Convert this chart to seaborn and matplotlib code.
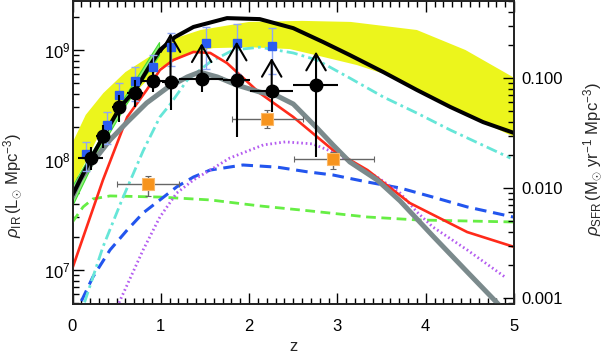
import matplotlib
matplotlib.use('Agg')
import numpy as np
import matplotlib.pyplot as plt
import matplotlib.ticker as mticker
import seaborn as sns

# ---- data (z, rho_IR in Lsun/Mpc^3) ----
band_up_z = [0.0, 0.15, 0.35, 0.6, 0.9, 1.1, 1.45, 2.0, 2.6, 3.15, 3.9, 4.45, 5.0]
band_up_v = [1.43e8, 2.57e8, 4.06e8, 6.3e8, 9.0e8, 1.23e9, 1.52e9, 1.8e9, 1.84e9, 1.8e9, 1.52e9, 1.0e9, 5.6e8]
band_lo_z = [0.0, 0.16, 0.31, 0.62, 0.99, 1.37, 1.59, 2.01, 2.46, 2.8, 3.22, 3.6, 4.28, 5.0]
band_lo_v = [5.8e7, 1.0e8, 1.76e8, 3.5e8, 6.9e8, 9.6e8, 1.04e9, 1.06e9, 1.02e9, 8.8e8, 7.3e8, 5.8e8, 3.03e8, 1.62e8]

green_band_z = [0.0, 0.3, 0.6, 0.98]
green_band_hi = [5.9e7, 1.52e8, 3.9e8, 1.18e9]
green_band_lo = [3.9e7, 1.23e8, 3.16e8, 9.0e8]

black_z = [0.0, 0.2, 0.345, 0.54, 0.71, 0.88, 0.99, 1.16, 1.37, 1.75, 2.12, 2.5, 2.84, 3.14, 3.52, 3.9, 4.28, 4.65, 5.0]
black_v = [4.8e7, 1.0e8, 1.62e8, 3.03e8, 4.33e8, 7.3e8, 1.0e9, 1.31e9, 1.62e9, 1.95e9, 1.91e9, 1.58e9, 1.18e9, 9.0e8, 6.3e8, 4.33e8, 3.03e8, 2.21e8, 1.76e8]

red_z = [0.0, 0.345, 0.62, 0.84, 0.99, 1.14, 1.37, 1.56, 1.75, 2.12, 2.5, 2.95, 3.34, 3.82, 4.47, 5.0]
red_v = [1.04e7, 6.58e7, 2.46e8, 4.33e8, 6.58e8, 8.1e8, 9.6e8, 9.4e8, 7.6e8, 4.06e8, 2.46e8, 1.23e8, 8.1e7, 4.06e7, 2.21e7, 1.62e7]

gray_z = [0.0, 0.085, 0.23, 0.425, 0.62, 0.84, 1.07, 1.3, 1.44, 1.64, 1.86, 2.12, 2.32, 2.5, 2.77, 2.95, 3.14, 3.45, 3.71, 4.08, 4.47, 4.81, 4.9]
gray_v = [4.6e7, 6.6e7, 9.6e7, 1.52e8, 2.21e8, 3.3e8, 4.52e8, 5.69e8, 6.3e8, 5.69e8, 4.8e8, 4.15e8, 3.82e8, 3.23e8, 1.95e8, 1.37e8, 9.6e7, 6.58e7, 4.24e7, 2.04e7, 9.6e6, 5.0e6, 4.15e6]

cyan_z = [0.1, 0.13, 0.345, 0.56, 0.8, 0.99, 1.1, 1.3, 1.56, 1.82, 2.12, 2.5, 2.77, 3.14, 3.52, 3.9, 4.28, 4.96]
cyan_v = [3.2e6, 4.9e6, 1.62e7, 4.33e7, 1.21e8, 2.46e8, 3.16e8, 5.33e8, 7.8e8, 1.0e9, 1.06e9, 9.4e8, 8.1e8, 5.56e8, 3.74e8, 2.67e8, 1.87e8, 1.04e8]

purple_z = [0.48, 0.52, 0.8, 0.99, 1.18, 1.37, 1.56, 1.78, 2.16, 2.41, 2.72, 2.95, 3.2, 3.45, 3.71, 3.9, 4.08, 4.47, 4.9]
purple_v = [3.5e6, 4.9e6, 1.52e7, 3.03e7, 5.0e7, 6.58e7, 8.1e7, 1.04e8, 1.37e8, 1.46e8, 1.4e8, 1.18e8, 9.0e7, 7.0e7, 5.0e7, 3.37e7, 2.46e7, 1.52e7, 8.6e6]

blue_z = [0.05, 0.085, 0.23, 0.425, 0.62, 0.8, 0.99, 1.18, 1.37, 1.56, 1.93, 2.32, 2.66, 2.95, 3.34, 3.71, 4.08, 4.47, 4.99]
blue_v = [3.6e6, 4.9e6, 8.6e6, 1.52e7, 2.31e7, 3.3e7, 4.33e7, 5.69e7, 7.0e7, 8.1e7, 9.0e7, 8.6e7, 7.8e7, 7.3e7, 6.3e7, 5.56e7, 4.6e7, 3.74e7, 3.03e7]

green_z = [0.0, 0.12, 0.23, 0.425, 0.99, 1.56, 2.12, 2.69, 3.34, 3.9, 4.99]
green_v = [2.73e7, 3.74e7, 4.42e7, 4.71e7, 4.6e7, 4.33e7, 3.82e7, 3.44e7, 3.03e7, 2.85e7, 2.73e7]

# black circles (last five are lower limits, arrow tips in bk_hi)
bk_z = [0.206, 0.349, 0.53, 0.708, 0.915, 1.11, 1.463, 1.86, 2.256, 2.758]
bk_v = [1.05e8, 1.65e8, 3.05e8, 4.1e8, 5.25e8, 5.16e8, 5.45e8, 5.3e8, 4.26e8, 4.8e8]
bk_lo = [8.1e7, 1.28e8, 2.23e8, 3.05e8, 4.18e8, 2.85e8, 4.18e8, 1.63e8, 2.75e8, 1.07e8]
bk_hi = [1.32e8, 2.08e8, 3.9e8, 5.33e8, 6.35e8, 1.42e9, 1.15e9, 1.19e9, 8.46e8, 9.66e8]
bk_zlo = [0.14, 0.08, 0.08, 0.09, 0.135, 0.1, 0.26, 0.16, 0.25, 0.26]
bk_zhi = [0.144, 0.08, 0.08, 0.09, 0.155, 0.1, 0.24, 0.15, 0.24, 0.25]
bk_limit = [False, False, False, False, False, True, True, True, True, True]

bl_z = [0.153, 0.387, 0.53, 0.711, 0.915, 1.112, 1.508, 1.86, 2.256]
bl_v = [1.135e8, 2.07e8, 3.89e8, 5.25e8, 7.05e8, 1.07e9, 1.15e9, 1.16e9, 1.09e9]
bl_lo = [0.80e8, 1.39e8, 2.73e8, 3.45e8, 5.1e8, 7.2e8, 6.7e8, 6.0e8, 6.0e8]
bl_hi = [1.47e8, 2.75e8, 5.05e8, 7.05e8, 9.0e8, 1.42e9, 1.63e9, 1.72e9, 1.58e9]

or_z = [0.859, 2.206, 2.954]
or_v = [6.0e7, 2.38e8, 1.01e8]
or_lo = [4.71e7, 1.97e8, 8.2e7]
or_hi = [7.2e7, 2.85e8, 1.19e8]
or_zlo = [0.35, 0.4, 0.45]
or_zhi = [0.35, 0.4, 0.46]

sfr_factor = 1.8e-10
ylim = (4.9e6, 2.79e9)

sns.set_theme(style='ticks')
plt.rcParams['font.family'] = ['Liberation Sans', 'DejaVu Sans']
plt.rcParams['mathtext.fontset'] = 'custom'
plt.rcParams['mathtext.rm'] = 'Liberation Sans'
plt.rcParams['mathtext.it'] = 'Liberation Sans:italic'

fig = plt.figure(figsize=(6.03, 3.58), dpi=100)
ax = fig.add_axes([72.5 / 603, 1 - 304 / 358, 441.5 / 603, 303 / 358])
ax.set_yscale('log')
ax.set_xlim(0, 5)
ax.set_ylim(*ylim)

# shaded bands
ax.fill(np.r_[band_up_z, band_lo_z[::-1]], np.r_[band_up_v, band_lo_v[::-1]],
        color='#ecf51c', lw=0, zorder=1)
ax.fill_between(green_band_z, green_band_lo, green_band_hi, color='#8ef07a',
                edgecolor='#44dd33', lw=0.8, zorder=2)

def curve(z, v, color, lw, ls, zo):
    sns.lineplot(x=z, y=v, ax=ax, color=color, linewidth=lw, zorder=zo, sort=False)
    ax.lines[-1].set_linestyle(ls)

curve(green_z, green_v, '#66ee44', 2.0, (0, (3.5, 2)), 3)
curve(blue_z, blue_v, '#2255ee', 2.2, (0, (3.8, 2.2)), 3)
curve(purple_z, purple_v, '#b45cf0', 2.0, (0, (0.6, 1.0)), 3)
curve(cyan_z, cyan_v, '#66e6d8', 2.0, (0, (4, 1.5, 1, 1.5)), 3)
curve(red_z, red_v, '#ff2a1a', 1.9, '-', 4)
curve(gray_z, gray_v, '#7b8a8c', 3.6, '-', 5)
curve(black_z, black_v, 'black', 2.9, '-', 6)

# data points
ax.errorbar(or_z, or_v, xerr=[or_zlo, or_zhi],
            yerr=[np.subtract(or_v, or_lo), np.subtract(or_hi, or_v)],
            fmt='s', ms=8.5, color='#f7941d', mec='#fbb867', mew=0.8,
            ecolor='#666666', elinewidth=1.0, capsize=2.5, capthick=1.0, zorder=7)

ax.errorbar(bl_z, bl_v,
            yerr=[np.subtract(bl_v, bl_lo), np.subtract(bl_hi, bl_v)],
            fmt='s', ms=6, color='#2b5cf0', mec='#2b5cf0',
            ecolor='#8ea6f5', elinewidth=1.0, capsize=2.8, capthick=1.0, zorder=7)

bk_up = [0 if lim else h - v for lim, h, v in zip(bk_limit, bk_hi, bk_v)]
ax.errorbar(bk_z, bk_v, xerr=[bk_zlo, bk_zhi],
            yerr=[np.subtract(bk_v, bk_lo), bk_up],
            fmt='o', ms=9, color='black', ecolor='black', elinewidth=1.5,
            capsize=0, zorder=9)
for z, v, h, lim in zip(bk_z, bk_v, bk_hi, bk_limit):
    if lim:
        ax.annotate('', xy=(z, h), xytext=(z, v), xycoords='data',
                    arrowprops=dict(arrowstyle='->,head_length=1.2,head_width=0.7',
                                    mutation_scale=10, lw=1.5, color='black',
                                    shrinkA=0, shrinkB=0), zorder=9)

# axes styling
ax.xaxis.set_major_locator(mticker.MultipleLocator(1))
ax.xaxis.set_minor_locator(mticker.MultipleLocator(0.1))
ax.yaxis.set_minor_formatter(mticker.NullFormatter())
ax.tick_params(which='both', direction='in', top=True, right=False, colors='black',
               labelsize=12, width=1.0)
ax.tick_params(which='major', length=8)
ax.tick_params(which='minor', length=4)
ax.tick_params(axis='x', pad=11)
ax.tick_params(axis='y', pad=1.5)
for s in ax.spines.values():
    s.set_linewidth(1.2)
    s.set_color('black')

ax2 = ax.twinx()
ax2.set_yscale('log')
ax2.set_ylim(ylim[0] * sfr_factor, ylim[1] * sfr_factor)
ax2.yaxis.set_major_locator(mticker.FixedLocator([0.001, 0.01, 0.1]))
ax2.yaxis.set_major_formatter(mticker.FormatStrFormatter('%.3f'))
ax2.yaxis.set_minor_formatter(mticker.NullFormatter())
ax2.tick_params(which='both', direction='in', labelsize=12, width=1.0, pad=5, colors='black')
ax2.tick_params(which='major', length=8)
ax2.tick_params(which='minor', length=4)
ax2.spines['right'].set_linewidth(1.2)
ax2.grid(False)

ax.set_xlabel('z', fontsize=12)
ax.xaxis.set_label_coords(0.5, -0.115)
ax.set_ylabel(r'$\rho_{\rm IR}\,(\mathrm{L}_{\odot}\ \mathrm{Mpc}^{-3})$', fontsize=12)
ax.yaxis.set_label_coords(-0.11, 0.39)
ax2.set_ylabel(r'$\rho_{\rm SFR}\,(\mathrm{M}_{\odot}\ \mathrm{yr}^{-1}\ \mathrm{Mpc}^{-3})$', fontsize=12)
ax2.yaxis.set_label_coords(1.152, 0.479)

fig.savefig('out.png', dpi=100, facecolor='white')
